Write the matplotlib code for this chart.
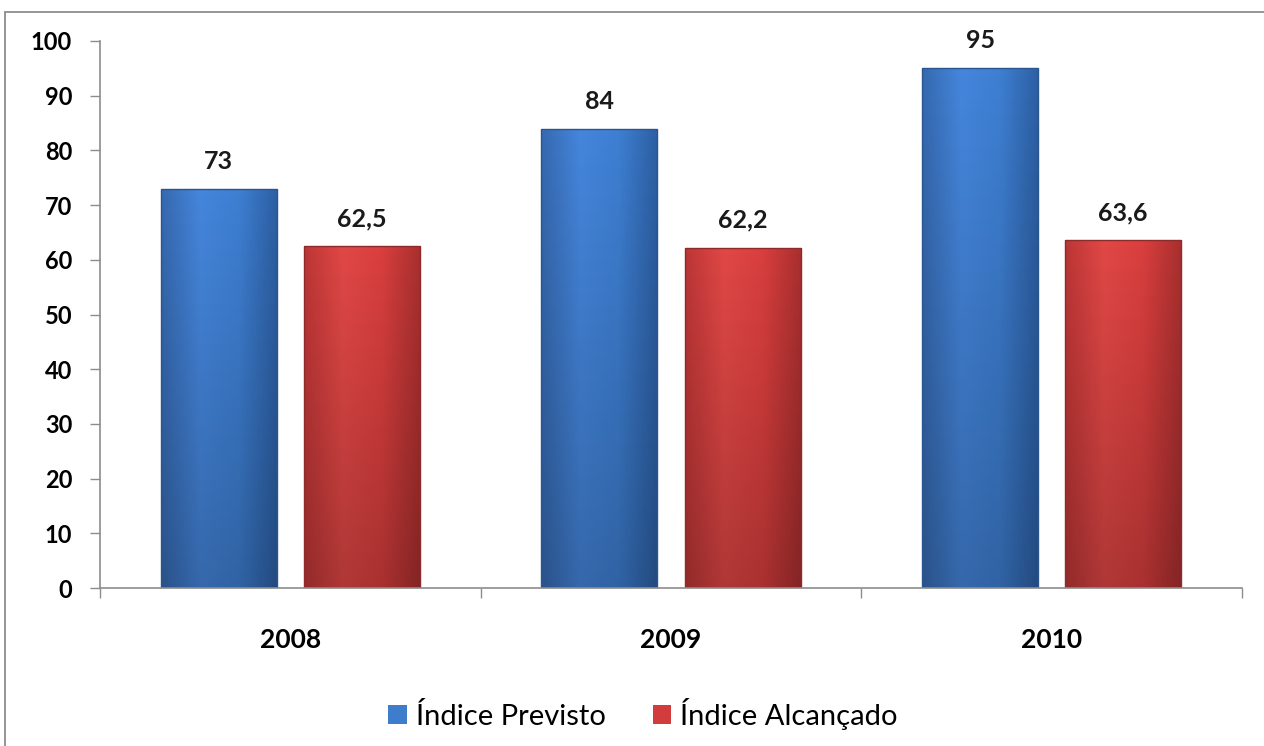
import matplotlib.pyplot as plt
import numpy as np
from matplotlib.colors import LinearSegmentedColormap
from matplotlib.patches import Rectangle

years = ["2008", "2009", "2010"]
previsto = [73, 84, 95]
alcancado = [62.5, 62.2, 63.6]
series_names = ["Índice Previsto", "Índice Alcançado"]
yticks = list(range(0, 101, 10))

plt.rcParams["font.family"] = ["Lato", "DejaVu Sans"]

blue = "#3d7dcc"
red = "#d23c3c"
blue_cmap = LinearSegmentedColormap.from_list("b", ["#3669b0", "#4586dc", "#3e7fd2", "#2d5fa3"])
red_cmap = LinearSegmentedColormap.from_list("r", ["#bc3636", "#e04846", "#d83f3e", "#a82f2f"])

fig = plt.figure(figsize=(12.64, 7.46), dpi=100)
ax = fig.add_axes([100 / 1264, 158 / 746, 1142 / 1264, 547 / 746])

# outer chart border (top and left edges visible)
fig.add_artist(Rectangle((5 / 1264, -0.1), 1.2, 0.1 + (746 - 12) / 746,
                         transform=fig.transFigure, fill=False,
                         edgecolor="#8c8c8c", linewidth=1.3))

x = np.arange(len(years))
w = 0.305
off = 0.188


def shade(bars, cmap, edge):
    # horizontal gradient + vertical darkening to fake the bevelled look
    grad_h = np.linspace(0, 1, 200)[None, :]
    for b in bars:
        x0, w0, h = b.get_x(), b.get_width(), b.get_height()
        im = ax.imshow(np.repeat(grad_h, 50, axis=0), cmap=cmap, aspect="auto",
                       extent=(x0, x0 + w0, 0, h), origin="lower", zorder=2)
        im.set_clip_path(b)
        vert = np.linspace(0.22, 0, 100)[:, None]
        ov = np.zeros((100, 1, 4))
        ov[..., 3] = vert
        im2 = ax.imshow(ov, aspect="auto", extent=(x0, x0 + w0, 0, h),
                        origin="lower", zorder=2.1)
        im2.set_clip_path(b)
        ax.add_patch(Rectangle((x0, 0), w0, h, fill=False, edgecolor=edge,
                               linewidth=1.0, zorder=2.2))


b1 = ax.bar(x - off, previsto, w, color=blue, zorder=1, label=series_names[0])
b2 = ax.bar(x + off, alcancado, w, color=red, zorder=1, label=series_names[1])
shade(b1, blue_cmap, "#2a5690")
shade(b2, red_cmap, "#8e2a2a")

for bars, vals in ((b1, previsto), (b2, alcancado)):
    for b, v in zip(bars, vals):
        txt = f"{v:g}".replace(".", ",")
        ax.text(b.get_x() + b.get_width() / 2, v + 5.0, txt, ha="center",
                va="center", fontsize=18, fontweight="bold", color="#1a1a1a")

ax.set_xlim(-0.5, len(years) - 0.5)
ax.set_ylim(0, 100)
ax.set_yticks(yticks)
ax.set_yticklabels([str(t) for t in yticks], fontsize=17, fontweight="bold")
ax.set_xticks(x)
ax.set_xticklabels(years, fontsize=19, fontweight="bold")
ax.set_xticks(np.arange(len(years) + 1) - 0.5, minor=True)
ax.tick_params(axis="x", which="major", length=0, pad=29)
ax.tick_params(axis="x", which="minor", length=7, color="#8c8c8c", width=1)
ax.tick_params(axis="y", length=7, color="#8c8c8c", width=1, pad=13)

for s in ("top", "right"):
    ax.spines[s].set_visible(False)
for s in ("left", "bottom"):
    ax.spines[s].set_color("#8c8c8c")
    ax.spines[s].set_linewidth(1.2)

leg = fig.legend(handles=[b1, b2], labels=series_names, loc="center",
                 bbox_to_anchor=(643 / 1264, (746 - 714) / 746), ncol=2,
                 frameon=False, fontsize=21, handlelength=0.65, handleheight=0.65,
                 handletextpad=0.3, columnspacing=1.6)

fig.savefig("out.png", dpi=100)
